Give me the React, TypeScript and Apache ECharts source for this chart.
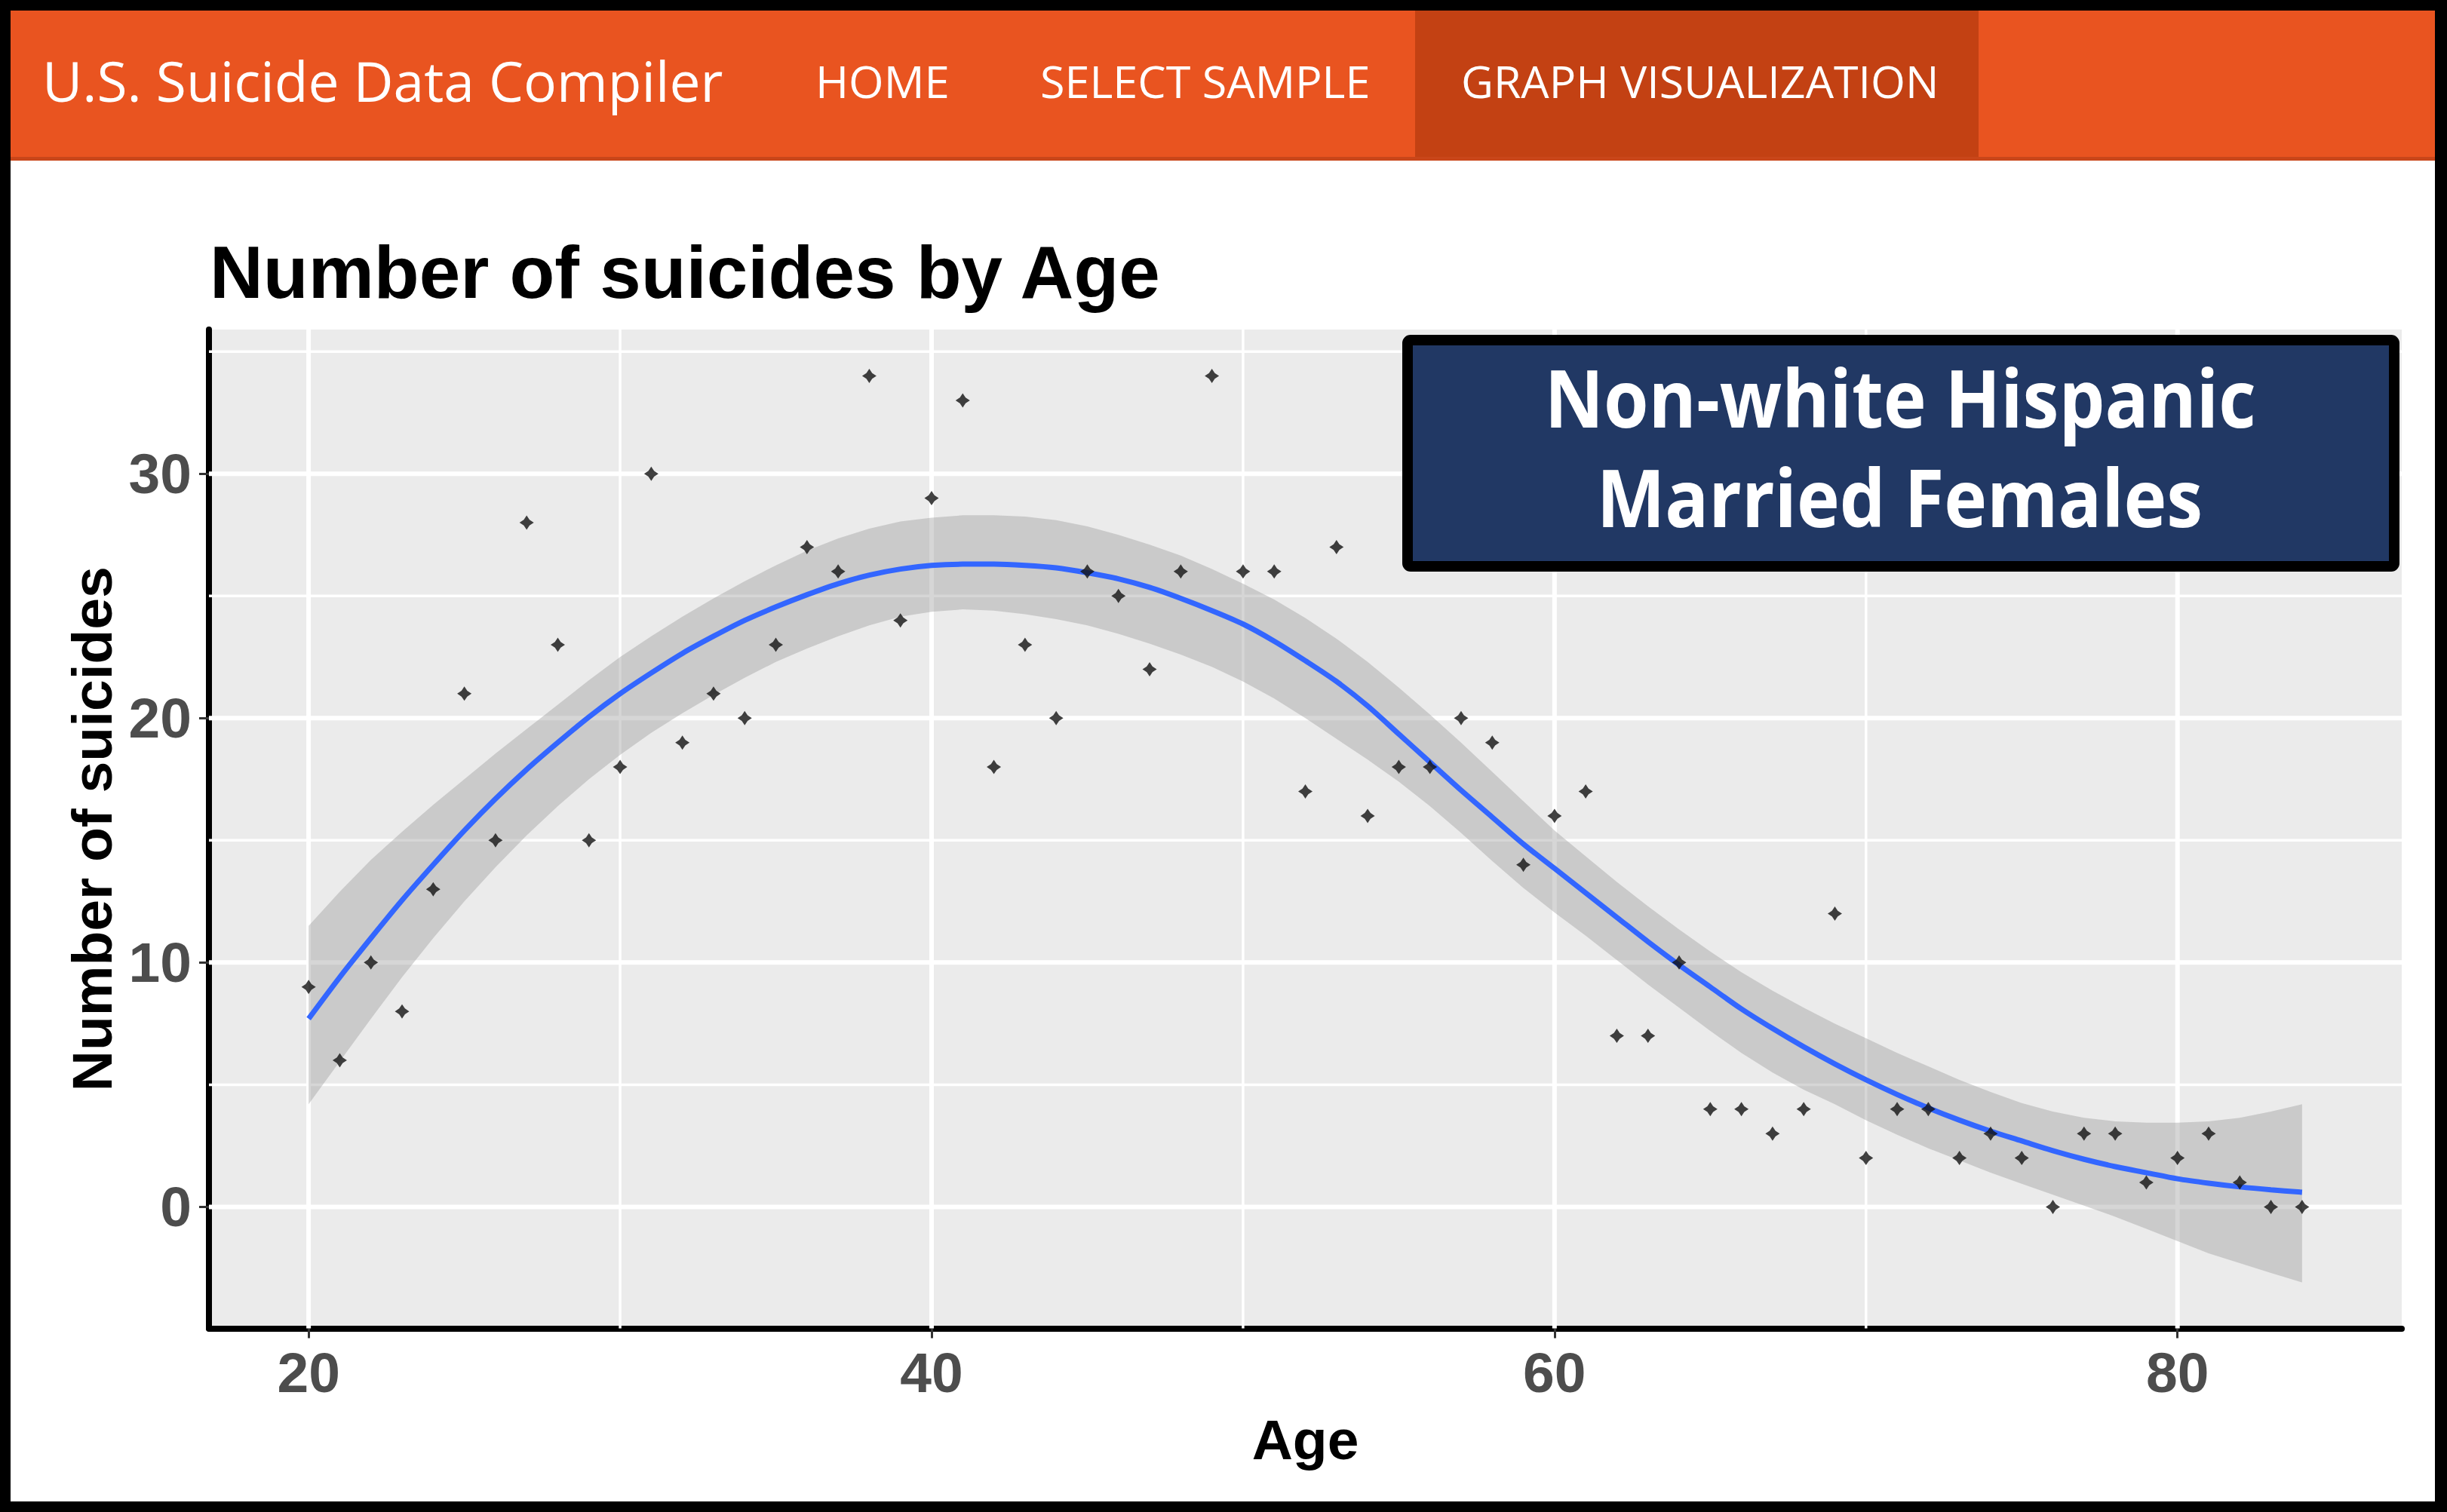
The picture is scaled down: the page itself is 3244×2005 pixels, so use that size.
import React, { useEffect, useRef } from "react";
import * as echarts from "echarts";

// ---------------- data ----------------
const ages = [
  20, 21, 22, 23, 24, 25, 26, 27, 28, 29, 30, 31, 32, 33, 34, 35, 36, 37, 38, 39,
  40, 41, 42, 43, 44, 45, 46, 47, 48, 49, 50, 51, 52, 53, 54, 55, 56, 57, 58, 59,
  60, 61, 62, 63, 64, 65, 66, 67, 68, 69, 70, 71, 72, 73, 74, 75, 76, 77, 78, 79,
  80, 81, 82, 83, 84,
];
const suicides = [
  9, 6, 10, 8, 13, 21, 15, 28, 23, 15, 18, 30, 19, 21, 20, 23, 27, 26, 34, 24,
  29, 33, 18, 23, 20, 26, 25, 22, 26, 34, 26, 26, 17, 27, 16, 18, 18, 20, 19, 14,
  16, 17, 7, 7, 10, 4, 4, 3, 4, 12, 2, 4, 4, 2, 3, 2, 0, 3, 3, 1,
  2, 3, 1, 0, 0,
];
// loess fit and its confidence band (same ages as above)
const fitAges = ages;
const fitValues = [
  7.7, 9.4, 11.0, 12.55, 14.0, 15.4, 16.7, 17.9, 19.0, 20.05,
  21.0, 21.85, 22.65, 23.35, 24.0, 24.55, 25.05, 25.5, 25.85, 26.1,
  26.25, 26.3, 26.3, 26.25, 26.15, 25.95, 25.7, 25.35, 24.9, 24.4,
  23.85, 23.15, 22.35, 21.5, 20.5, 19.35, 18.2, 17.05, 15.95, 14.85,
  13.85, 12.85, 11.85, 10.85, 9.9, 9.0, 8.1, 7.3, 6.55, 5.85,
  5.2, 4.6, 4.05, 3.55, 3.1, 2.7, 2.3, 1.95, 1.65, 1.4,
  1.15, 0.97, 0.82, 0.7, 0.6,
];
const bandUpper = [
  11.5, 12.9, 14.2, 15.35, 16.45, 17.5, 18.55, 19.55, 20.55, 21.55,
  22.5, 23.35, 24.15, 24.9, 25.6, 26.25, 26.85, 27.35, 27.75, 28.05,
  28.2, 28.3, 28.3, 28.25, 28.1, 27.85, 27.5, 27.1, 26.65, 26.1,
  25.5, 24.85, 24.1, 23.25, 22.3, 21.25, 20.15, 19.0, 17.8, 16.6,
  15.4, 14.35, 13.3, 12.3, 11.35, 10.45, 9.6, 8.85, 8.15, 7.5,
  6.9, 6.3, 5.75, 5.2, 4.7, 4.25, 3.9, 3.65, 3.5, 3.45,
  3.45, 3.5, 3.65, 3.9, 4.2,
];
const bandLower = [
  4.2, 5.95, 7.7, 9.4, 11.0, 12.5, 13.9, 15.2, 16.4, 17.5,
  18.5, 19.4, 20.2, 20.95, 21.65, 22.3, 22.85, 23.35, 23.8, 24.15,
  24.35, 24.45, 24.4, 24.25, 24.05, 23.8, 23.45, 23.05, 22.6, 22.1,
  21.5, 20.8, 20.0, 19.15, 18.3, 17.4, 16.4, 15.3, 14.15, 13.05,
  12.05, 11.1, 10.1, 9.1, 8.15, 7.2, 6.3, 5.5, 4.8, 4.2,
  3.55, 2.95, 2.4, 1.9, 1.4, 0.95, 0.5, 0.05, -0.4, -0.9,
  -1.4, -1.9, -2.3, -2.7, -3.09,
];
const xTicks = [20, 40, 60, 80];
const xMinorTicks = [30, 50, 70];
const yTicks = [0, 10, 20, 30];
const yMinorTicks = [5, 15, 25, 35];

const brandText = "U.S. Suicide Data Compiler";
const navItems = ["HOME", "SELECT SAMPLE", "GRAPH VISUALIZATION"];
const boxLines = ["Non-white Hispanic", "Married Females"];
const chartTitle = "Number of suicides by Age";
const xName = "Age";
const yName = "Number of suicides";

// ---------------- layout (page pixels) ----------------
const OX = 14;
const OY = 14;
const navInk = [
  [1086, 1256],
  [1382, 1814],
  [1940, 2565],
];
const boxInk = [
  [2056, 2988, 567],
  [2125, 2917, 698],
];

function placeText(
  text: string,
  family: string,
  weight: string | number,
  size: number,
  inkLeft: number,
  inkRight: number,
  baseline: number,
  color: string,
  z: number
) {
  const ctx = document.createElement("canvas").getContext("2d")!;
  const font = `${weight} ${size}px "${family}"`;
  ctx.font = font;
  const m = ctx.measureText(text);
  const ink = m.actualBoundingBoxLeft + m.actualBoundingBoxRight;
  const s = ink > 0 ? (inkRight - inkLeft) / ink : 1;
  const asc = (m as any).fontBoundingBoxAscent ?? size * 0.9;
  const desc = (m as any).fontBoundingBoxDescent ?? size * 0.2;
  const central = (asc - desc) / 2;
  return {
    type: "text",
    x: inkLeft + m.actualBoundingBoxLeft * s - OX,
    y: baseline - central - OY,
    scaleX: s,
    z,
    silent: true,
    style: {
      text,
      x: 0,
      y: 0,
      fill: color,
      fontFamily: family,
      fontWeight: weight,
      fontSize: size,
      align: "left",
      verticalAlign: "middle",
    },
  };
}

export default function App() {
  const ref = useRef<HTMLDivElement>(null);

  useEffect(() => {
    const chart = echarts.init(ref.current!, null, { renderer: "svg" });

    const gridData: number[][] = [
      ...xMinorTicks.map((v) => [v, 0, 0]),
      ...yMinorTicks.map((v) => [v, 1, 0]),
      ...xTicks.map((v) => [v, 0, 1]),
      ...yTicks.map((v) => [v, 1, 1]),
    ];

    const graphics: any[] = [
      {
        type: "rect",
        shape: { x: 0, y: 0, width: 3214, height: 194 },
        style: { fill: "#E95420" },
        silent: true,
      },
      {
        type: "rect",
        shape: { x: 0, y: 194, width: 3214, height: 5 },
        style: { fill: "#C9461A" },
        silent: true,
      },
      {
        type: "rect",
        shape: { x: 1876 - OX, y: 0, width: 2623 - 1876, height: 194 },
        style: { fill: "#C34113" },
        silent: true,
      },
      placeText(brandText, "Open Sans", 500, 73, 62, 958, 135, "#FFFFFF", 10),
      ...navItems.map((t, i) =>
        placeText(t, "Open Sans", 500, 59, navInk[i][0], navInk[i][1], 130, "#FFFFFF", 10)
      ),
      {
        type: "rect",
        z: 50,
        shape: { x: 1866 - OX, y: 451 - OY, width: 1308, height: 300, r: 4 },
        style: { fill: "#213864", stroke: "#000000", lineWidth: 14 },
        silent: true,
      },
      ...boxLines.map((t, i) =>
        placeText(t, "Open Sans", 700, 105, boxInk[i][0], boxInk[i][1], boxInk[i][2], "#FFFFFF", 51)
      ),
    ];

    const axisFont = "Liberation Sans";

    const option: any = {
      animation: false,
      backgroundColor: "#FFFFFF",
      textStyle: { fontFamily: axisFont },
      title: {
        text: chartTitle,
        left: 278 - OX,
        top: 312 - OY,
        padding: 0,
        textStyle: {
          fontFamily: axisFont,
          fontWeight: "bold",
          fontSize: 98,
          color: "#000000",
        },
      },
      grid: {
        left: 277 - OX,
        top: 437 - OY,
        width: 2907,
        height: 1324.5,
        show: true,
        backgroundColor: "#EBEBEB",
        borderWidth: 0,
      },
      xAxis: {
        type: "value",
        min: 16.8,
        max: 87.2,
        splitLine: { show: false },
        axisLine: { onZero: false, lineStyle: { color: "#000000", width: 8 } },
        axisTick: {
          customValues: xTicks,
          length: 13,
          lineStyle: { color: "#333333", width: 3 },
        },
        axisLabel: {
          customValues: xTicks,
          margin: 21,
          fontFamily: axisFont,
          fontWeight: "bold",
          fontSize: 75,
          color: "#4D4D4D",
        },
        name: xName,
        nameLocation: "middle",
        nameGap: 110,
        nameTextStyle: {
          fontFamily: axisFont,
          fontWeight: "bold",
          fontSize: 75,
          color: "#000000",
        },
      },
      yAxis: {
        type: "value",
        min: -4.97,
        max: 35.9,
        splitLine: { show: false },
        axisLine: { onZero: false, lineStyle: { color: "#000000", width: 8 } },
        axisTick: {
          customValues: yTicks,
          length: 13,
          lineStyle: { color: "#333333", width: 3 },
        },
        axisLabel: {
          customValues: yTicks,
          margin: 23,
          fontFamily: axisFont,
          fontWeight: "bold",
          fontSize: 75,
          color: "#4D4D4D",
        },
        name: yName,
        nameLocation: "middle",
        nameGap: 116,
        nameTextStyle: {
          fontFamily: axisFont,
          fontWeight: "bold",
          fontSize: 75,
          color: "#000000",
        },
      },
      graphic: { elements: graphics },
      series: [
        {
          type: "custom",
          name: "gridlines",
          z: 1,
          silent: true,
          data: gridData,
          renderItem: (params: any, api: any) => {
            const cs = params.coordSys;
            const v = api.value(0);
            const orient = api.value(1);
            const major = api.value(2);
            const w = major ? 6 : 3.5;
            if (orient === 0) {
              const p = api.coord([v, 0]);
              return {
                type: "line",
                shape: { x1: p[0], y1: cs.y, x2: p[0], y2: cs.y + cs.height },
                style: { stroke: "#FFFFFF", lineWidth: w },
              };
            }
            const p = api.coord([20, v]);
            return {
              type: "line",
              shape: { x1: cs.x, y1: p[1], x2: cs.x + cs.width, y2: p[1] },
              style: { stroke: "#FFFFFF", lineWidth: w },
            };
          },
        },
        {
          type: "custom",
          name: "band",
          z: 2,
          silent: true,
          data: [[0, 0]],
          renderItem: (_params: any, api: any) => {
            const pts: number[][] = [];
            for (let i = 0; i < fitAges.length; i++) {
              pts.push(api.coord([fitAges[i], bandUpper[i]]));
            }
            for (let i = fitAges.length - 1; i >= 0; i--) {
              pts.push(api.coord([fitAges[i], bandLower[i]]));
            }
            return {
              type: "polygon",
              shape: { points: pts },
              style: { fill: "rgba(153,153,153,0.4)" },
            };
          },
        },
        {
          type: "line",
          name: "fit",
          z: 3,
          silent: true,
          showSymbol: false,
          smooth: 0.3,
          data: fitAges.map((a, i) => [a, fitValues[i]]),
          lineStyle: { color: "#3366FF", width: 7 },
        },
        {
          type: "scatter",
          name: "points",
          z: 4,
          silent: true,
          symbol: "path://M4 0L5.6 2.4L8 4L5.6 5.6L4 8L2.4 5.6L0 4L2.4 2.4Z",
          symbolSize: 19,
          itemStyle: { color: "#111111" },
          data: ages.map((a, i) => [a, suicides[i]]),
        },
      ],
    };

    chart.setOption(option);
    return () => chart.dispose();
  }, []);

  return (
    <div
      style={{
        position: "fixed",
        left: 0,
        top: 0,
        width: 3244,
        height: 2005,
        background: "#000000",
      }}
    >
      <div
        ref={ref}
        style={{ position: "absolute", left: 14, top: 14, width: 3214, height: 1977 }}
      />
    </div>
  );
}
